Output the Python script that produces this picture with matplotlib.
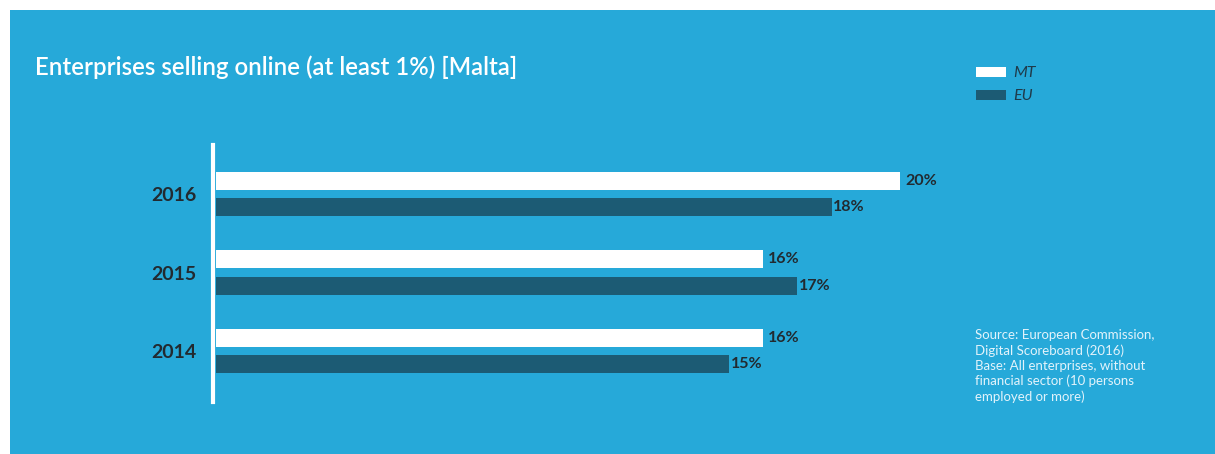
import numpy as np
import matplotlib.pyplot as plt
from matplotlib.patches import Rectangle

# Données
years = ['2016', '2015', '2014']
mt_values = [20, 16, 16]
eu_values = [18, 17, 15]
series_names = ['MT', 'EU']

bg_blue = '#26a9d9'
dark_bar = '#1c5b74'
txt_dark = '#222a30'

W, H = 1215, 454
fig = plt.figure(figsize=(W / 100, H / 100), dpi=100)
fig.patch.set_facecolor('white')
# fond bleu (bordure blanche en haut et a gauche)
fig.patches.append(Rectangle((10 / W, 0), 1, 1 - 10 / H, transform=fig.transFigure,
                             facecolor=bg_blue, edgecolor='none', zorder=-10))

# axes en pixels : barres commencent a x=216, axe de 145 a 402
px_per_unit = 34.2
x0 = 216
xmax = 25
ax_top, ax_bot = 145, 402
ax = fig.add_axes([x0 / W, 1 - ax_bot / H, xmax * px_per_unit / W, (ax_bot - ax_top) / H])
ax.set_facecolor('none')
ax.set_zorder(5)

y = np.arange(len(years))
off = 0.166
h = 0.229
ax.barh(y - off, mt_values, height=h, color='white', label=series_names[0])
ax.barh(y + off, eu_values, height=h, color=dark_bar, label=series_names[1])

for yi, v in zip(y - off, mt_values):
    ax.text(v + 0.15, yi, f'{v}%', va='center', ha='left', fontsize=11.5,
            fontweight='bold', color=txt_dark, family='Lato')
for yi, v in zip(y + off, eu_values):
    ax.text(v + 0.05, yi, f'{v}%', va='center', ha='left', fontsize=11.5,
            fontweight='bold', color=txt_dark, family='Lato')

for s in ['top', 'right', 'bottom']:
    ax.spines[s].set_visible(False)
ax.spines['left'].set_color('white')
ax.spines['left'].set_linewidth(3)
ax.spines['left'].set_position(('outward', 2))

ax.set_xlim(0, xmax)
ax.set_ylim(2 + 51 / 78.5, -49 / 78.5)
ax.set_xticks([])
ax.set_yticks(y)
ax.set_yticklabels(years, fontsize=14, fontweight='bold', color=txt_dark, family='Lato')
ax.tick_params(axis='y', length=0, pad=12)

# titre
fig.text(35 / W, 1 - 67 / H, 'Enterprises selling online (at least 1%) [Malta]',
         fontsize=17.3, fontweight='semibold', color='white', va='center', ha='left',
         family='Lato')

# legende manuelle
for i, (name, col) in enumerate(zip(series_names, ['white', dark_bar])):
    yc = 72 + i * 23
    fig.patches.append(Rectangle((976 / W, 1 - (yc + 5) / H), 30 / W, 10 / H,
                                 transform=fig.transFigure, facecolor=col,
                                 edgecolor='none'))
    fig.text(1013 / W, 1 - (yc + 1) / H, name, fontsize=11.5, style='italic',
             color='#1f3a4a', va='center', ha='left', family='Lato')

# source
source = ('Source: European Commission,\nDigital Scoreboard (2016)\n'
          'Base: All enterprises, without\nfinancial sector (10 persons\nemployed or more)')
fig.text(975 / W, 1 - 329 / H, source, fontsize=9.5, color='#e2f3fb', va='top',
         ha='left', linespacing=1.3, family='Lato')

fig.savefig('out.png', dpi=100, facecolor=fig.get_facecolor())
